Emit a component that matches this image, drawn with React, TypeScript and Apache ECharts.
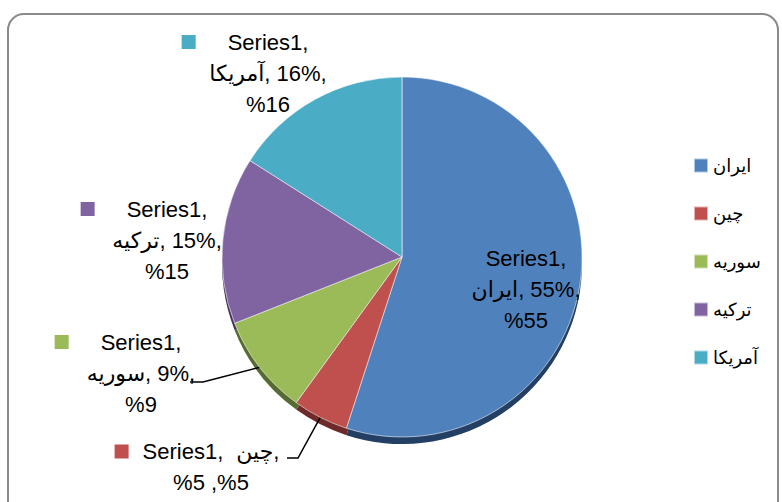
import React, { useEffect, useRef } from "react";
import * as echarts from "echarts";

// ---- data ----
const categories = ["ایران", "چین", "سوریه", "ترکیه", "آمریکا"];
const values = [55, 5, 9, 15, 16];
const seriesName = "Series1";

// ---- styles ----
const colors = ["#4F81BD", "#C0504D", "#9BBB59", "#8064A2", "#4BACC6"];
const edgeColors = ["#233f63", "#6e2a28", "#566b2f", "#46365c", "#276173"];
const FONT = "'Liberation Sans', Arial, 'DejaVu Sans', sans-serif";

// label block centres (layout only)
const labelCenters: number[][] = [
  [526, 289],
  [211, 467],
  [141, 373],
  [167, 240],
  [268, 73],
];
const leaderEnds: Record<number, number[][]> = {
  1: [
    [298, 458],
    [287, 458],
  ],
  2: [
    [203, 382],
    [190, 382],
  ],
};

export default function App() {
  const ref = useRef<HTMLDivElement>(null);

  useEffect(() => {
    if (!ref.current) return;
    const chart = echarts.init(ref.current, undefined, { renderer: "svg" });

    const rich: Record<string, any> = {
      g: { width: 32 },
      gs: { width: 14 },
      sp: { width: 13 },
      e: { width: 14 },
      a: { fontSize: 22, lineHeight: 31, color: "#000", fontFamily: FONT },
      t: { fontSize: 22, lineHeight: 31, color: "#000", fontFamily: FONT },
    };
    colors.forEach((c, i) => {
      rich["k" + i] = { width: 14, height: 14, backgroundColor: c };
    });

    const mainData = categories.map((name, i) => ({
      name,
      value: values[i],
      itemStyle: { color: colors[i] },
      label: i === 0 ? { position: "inside" } : {},
      labelLine: { show: i === 1 || i === 2 },
    }));

    const edgeData = categories.map((name, i) => ({
      name,
      value: values[i],
      itemStyle: { color: edgeColors[i] },
    }));

    chart.setOption({
      animation: false,
      backgroundColor: "#ffffff",
      graphic: [
        {
          type: "rect",
          silent: true,
          z: -10,
          shape: { x: 8, y: 14, width: 770, height: 540, r: 16 },
          style: { fill: "none", stroke: "#8a8a8a", lineWidth: 2 },
        },
      ],
      legend: {
        orient: "vertical",
        left: 688,
        top: 151,
        padding: 5,
        itemWidth: 14,
        itemHeight: 14,
        itemGap: 29,
        icon: "rect",
        data: categories,
        textStyle: {
          fontSize: 18,
          lineHeight: 19,
          color: "#000",
          fontFamily: FONT,
        },
      },
      series: [
        {
          name: seriesName,
          type: "pie",
          z: 3,
          center: [402, 257],
          radius: 180,
          startAngle: 90,
          clockwise: true,
          avoidLabelOverlap: false,
          data: mainData,
          itemStyle: { borderColor: "rgba(255,255,255,0.55)", borderWidth: 1 },
          emphasis: { disabled: true },
          label: {
            show: true,
            position: "outside",
            color: "#000",
            fontSize: 22,
            lineHeight: 31,
            fontFamily: FONT,
            align: "center",
            rich,
            formatter: (p: any) => {
              const i = p.dataIndex;
              const n = p.name;
              const v = Math.round(p.percent);
              if (i === 0)
                return `{t|${seriesName},}\n{a|${n}}{t|, ${v}%,}\n{t|%${v}}`;
              if (i === 1)
                return `{k1|}{gs|}{t|${seriesName},}{sp|}{a|${n}}{t|,}{gs|}{e|}\n{t|%${v} ,%${v}}`;
              return `{k${i}|}{g|}{t|${seriesName},}{g|}{e|}\n{a|${n}}{t|, ${v}%,}\n{t|%${v}}`;
            },
          },
          labelLine: {
            show: false,
            length: 10,
            length2: 10,
            lineStyle: { color: "#000", width: 1.5 },
          },
          labelLayout: (params: any) => {
            const i = params.dataIndex;
            const c = labelCenters[i];
            const res: any = {
              x: c[0],
              y: c[1],
              align: "center",
              verticalAlign: "middle",
            };
            if (leaderEnds[i] && params.labelLinePoints) {
              res.labelLinePoints = [params.labelLinePoints[0], ...leaderEnds[i]];
            }
            return res;
          },
        },
        {
          name: seriesName + "-edge",
          type: "pie",
          z: 1,
          silent: true,
          center: [402, 264],
          radius: 180,
          startAngle: 90,
          clockwise: true,
          data: edgeData,
          label: { show: false },
          labelLine: { show: false },
          emphasis: { disabled: true },
          tooltip: { show: false },
        },
      ],
    });

    return () => chart.dispose();
  }, []);

  return (
    <div
      ref={ref}
      style={{ position: "fixed", left: 0, top: 0, width: 782, height: 502 }}
    />
  );
}
